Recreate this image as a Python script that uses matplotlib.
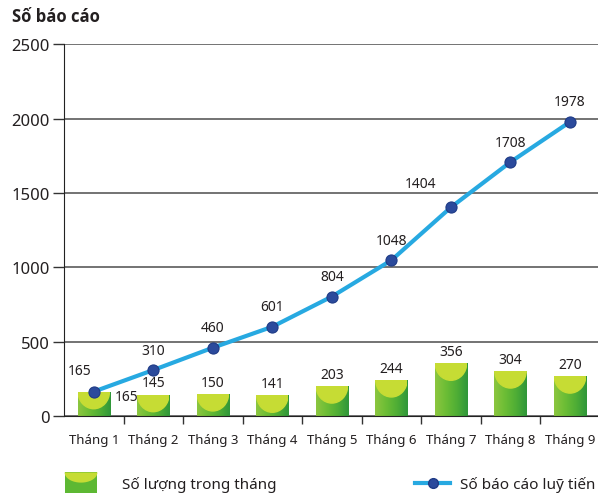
import numpy as np
import matplotlib
matplotlib.use("Agg")
import matplotlib.pyplot as plt
from matplotlib.patches import Ellipse, Rectangle, Polygon
from matplotlib.lines import Line2D
from matplotlib.legend_handler import HandlerBase
from matplotlib.colors import LinearSegmentedColormap

plt.rcParams['font.family'] = ['Noto Sans', 'DejaVu Sans']

# ---------------- data ----------------
thang = ["Tháng 1", "Tháng 2", "Tháng 3", "Tháng 4", "Tháng 5",
         "Tháng 6", "Tháng 7", "Tháng 8", "Tháng 9"]
so_luong = [165, 145, 150, 141, 203, 244, 356, 304, 270]
luy_tien = [165, 310, 460, 601, 804, 1048, 1404, 1708, 1978]

TXT = "#231f20"
LINE_C = "#27a9e1"
MARK_C = "#2b4a9c"
CAP_C = "#c6dc34"
cmap_bar = LinearSegmentedColormap.from_list(
    "bar", ["#8cc63f", "#6cbd35", "#4fae35", "#2f973a"])

fig = plt.figure(figsize=(5.98, 5.02), dpi=100)
ax = fig.add_axes([0.107, 0.169, 0.896, 0.741])

x = np.arange(len(thang))
bars = ax.bar(x, so_luong, width=0.54, color="#5db833", zorder=2)

# gradient + yellow cap on each bar
grad = np.linspace(0, 1, 64).reshape(1, -1)
for rect in bars:
    x0, y0 = rect.get_x(), rect.get_y()
    w, h = rect.get_width(), rect.get_height()
    im = ax.imshow(grad, cmap=cmap_bar, extent=(x0, x0 + w, y0, y0 + h),
                   aspect="auto", zorder=2.2, interpolation="bicubic")
    im.set_clip_path(rect)
    cap = Ellipse((x0 + w / 2, y0 + h), w * 0.98, 230, color=CAP_C, zorder=2.4)
    ax.add_patch(cap)
    cap.set_clip_path(rect)

# cumulative line
ax.plot(x, luy_tien, color=LINE_C, lw=3, zorder=3)
ax.plot(x, luy_tien, ls="none", marker="o", ms=8, mfc=MARK_C,
        mec="#1f3b86", mew=0.8, zorder=4)

# value labels
line_off = {0: (-10, 10), 6: (-22, 12)}
for i, v in enumerate(luy_tien):
    dx, dy = line_off.get(i, (0, 9))
    ax.annotate(str(v), (x[i], v), xytext=(dx, dy), textcoords="offset points",
                ha="center", va="bottom", fontsize=10, color=TXT, zorder=5)

bar_off = {0: (24, -9)}
for i, v in enumerate(so_luong):
    dx, dy = bar_off.get(i, (0, 3))
    ax.annotate(str(v), (x[i], v), xytext=(dx, dy), textcoords="offset points",
                ha="center", va="bottom", fontsize=10, color=TXT, zorder=5)

# axes styling
ax.set_xlim(-0.5, len(thang) - 0.5)
ax.set_ylim(0, 2500)
ax.set_yticks([0, 500, 1000, 1500, 2000, 2500])
ax.tick_params(axis="y", length=8, width=1, pad=2, labelsize=12,
               colors="#333333", labelcolor=TXT)
ax.set_xticks(x)
ax.set_xticklabels(thang)
ax.set_xticks(np.arange(0.5, len(thang) - 0.5, 1), minor=True)
ax.tick_params(axis="x", which="major", length=0, pad=12, labelsize=9.5,
               labelcolor=TXT)
ax.tick_params(axis="x", which="minor", length=6, width=1, color="#333333",
               direction="out")
ax.grid(axis="y", color="#4d4d4d", lw=1.1, zorder=1)
ax.set_axisbelow(True)
for s in ["top", "right"]:
    ax.spines[s].set_visible(False)
ax.spines["left"].set_color("#222222")
ax.spines["bottom"].set_color("#222222")

fig.text(0.02, 0.966, "Số báo cáo", fontsize=12, fontweight="bold",
         family=["Open Sans", "DejaVu Sans"], color=TXT, va="center", ha="left")


# legend with capped bar symbol
class BarHandler(HandlerBase):
    def create_artists(self, legend, orig_handle, xd, yd, width, height,
                       fontsize, trans):
        w, h = width, height * 1.3
        y0 = yd - 0.45 * height
        rect = Rectangle((xd, y0), w, h, facecolor="#5db833",
                         edgecolor="none", transform=trans)
        t = np.linspace(np.pi, 2 * np.pi, 30)
        pts = np.column_stack([xd + w / 2 + (w / 2) * np.cos(t),
                               y0 + h + 0.5 * h * np.sin(t)])
        cap = Polygon(pts, closed=True, facecolor=CAP_C, edgecolor="none",
                      transform=trans)
        return [rect, cap]


bar_handle = Rectangle((0, 0), 1, 1)
line_handle = Line2D([], [], color=LINE_C, lw=3, marker="o", ms=7,
                     mfc=MARK_C, mec="#1f3b86")

leg1 = fig.legend([bar_handle], ["Số lượng trong tháng"], loc="center left",
                  bbox_to_anchor=(0.085, 0.034), frameon=False, fontsize=11,
                  handlelength=2.15, handleheight=1.2, handletextpad=1.6,
                  handler_map={Rectangle: BarHandler()}, labelcolor=TXT)
leg2 = fig.legend([line_handle], ["Số báo cáo luỹ tiến"], loc="center left",
                  bbox_to_anchor=(0.671, 0.034), frameon=False, fontsize=11,
                  handlelength=2.3, handletextpad=0.65, labelcolor=TXT)

fig.savefig("out.png", dpi=100)
